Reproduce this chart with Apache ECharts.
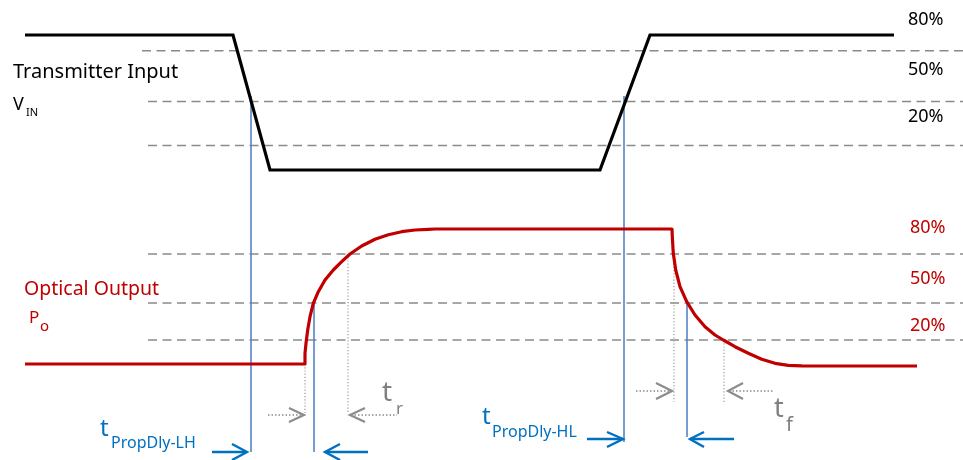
<!DOCTYPE html>
<html>
<head>
<meta charset="utf-8">
<script src="https://cdn.jsdelivr.net/npm/echarts@6/dist/echarts.min.js"></script>
<style>html,body{margin:0;padding:0;background:#fff}#c{width:963px;height:460px}</style>
</head>
<body>
<div id="c"></div>
<script>
// Time (x) and level (y) values, in the diagram's own units
const inputWave = [[25,35],[233,35],[270,170],[600,170],[650,35],[894,35]];
const outputWave = [[25,364],[305,364],[305,353.3],[306,343.3],[307.7,330],[310,316.7],[313.3,303.3],[318.3,291.7],[325,280],[333.3,270],[341.7,261.7],[350,254],[361.7,246],[375,239.3],[388.3,234.7],[401.7,231.7],[415,230],[428.3,229.3],[435,229],[672,229],[672.3,236.7],[673.3,253.3],[675.7,270],[680,286.7],[686.7,301.7],[695,315],[705,326.7],[715,335],[723.3,340],[735,346.7],[748.3,353.3],[761.7,359.3],[775,363.3],[788.3,365.3],[801.7,365.8],[917,366]];
const inputThresholds = [[142,50.7],[148,101.5],[148,145.5]];
const outputThresholds = [[148,254],[148,303],[148,340]];
const thresholdEnd = 963;
const propMarkers = [[[251,96],[251,452]],[[624,96],[624,442]],[[314,303],[314,452]],[[687,303],[687,437]]];
const edgeMarkers = [[[305,364],[305,413]],[[348,254],[348,413]],[[674,254],[674,402]],[[724,340],[724,402]]];
const grayTails = [[[268,415],[303,415]],[[351,415],[397,415]],[[636,391],[671,391]],[[729,391],[773,391]]];
const grayHeads = [[[289,408],[304,415],[289,422]],[[365,408],[350,415],[365,422]],[[656,383],[672,391],[656,399]],[[743,383],[728,391],[743,399]]];
const blueTails = [[[212,452],[246,452]],[[325,452],[368,452]],[[587,439],[623,439]],[[690,439],[734,439]]];
const blueHeads = [[[232,444],[247,452],[232,460]],[[340,444],[325,452],[340,460]],[[607,432],[623,439],[607,447]],[[704,432],[690,439],[704,447]]];
const inputLevelLabels = ['80%','50%','20%'];
const inputLevelPos = [[908,20],[908,70],[908,117]];
const outputLevelLabels = ['80%','50%','20%'];
const outputLevelPos = [[910,228],[910,279],[910,326]];
const textLabels = [
  ['Transmitter Input',13,72,20,'#000'],
  ['V',13,104.4,18,'#000'],
  ['IN',26,112.7,11,'#000'],
  ['Optical Output',24,289.2,19.5,'#C00000'],
  ['P',29,318.4,17,'#C00000'],
  ['o',40,327.2,15,'#C00000'],
  ['t',382,393.1,28,'#808080'],
  ['r',396,409.4,17,'#808080'],
  ['t',774,409.5,27,'#808080'],
  ['f',786,425.2,20,'#808080'],
  ['t',100,428.7,24,'#0070C0'],
  ['PropDly-LH',111,443.8,16,'#0070C0'],
  ['t',482,416.7,24,'#0070C0'],
  ['PropDly-HL',492,432.8,16,'#0070C0']
];

const FONT = 'Noto Sans';
const series = [];
function seg(data, style, z) {
  series.push({type:'line', data:data, symbol:'none', silent:true, animation:false, z:z,
    lineStyle:style});
}
const dashStyle = {color:'#8a8a8a', width:1.6, type:[9,5.5]};
inputThresholds.concat(outputThresholds).forEach(t => seg([t,[thresholdEnd,t[1]]], dashStyle, 1));
edgeMarkers.forEach(s => seg(s, {color:'#9a9a9a', width:1.2, type:[1.2,2]}, 2));
grayTails.forEach(s => seg(s, {color:'#8c8c8c', width:1.5, type:[1.5,2]}, 2));
grayHeads.forEach(s => seg(s, {color:'#8c8c8c', width:2.2, join:'miter'}, 2));
seg(inputWave, {color:'#000', width:3.2, join:'miter'}, 4);
seg(outputWave, {color:'#C00000', width:3.2, join:'round'}, 4);
propMarkers.forEach(s => seg(s, {color:'#5585c5', width:1.6}, 3));
blueTails.forEach(s => seg(s, {color:'#0070C0', width:2.4}, 3));
blueHeads.forEach(s => seg(s, {color:'#0070C0', width:2.4, join:'miter'}, 3));

function labelItem(text, x, y, size, color) {
  return {value:[x,y], label:{show:true, formatter:text, position:'inside', align:'left', verticalAlign:'middle',
    fontFamily:FONT, fontSize:size, color:color, opacity:1, textBorderWidth:0, textShadowBlur:0}};
}
const labelData = [];
inputLevelLabels.forEach((t,i) => labelData.push(labelItem(t, inputLevelPos[i][0], inputLevelPos[i][1], 18, '#000')));
outputLevelLabels.forEach((t,i) => labelData.push(labelItem(t, outputLevelPos[i][0], outputLevelPos[i][1], 18, '#C00000')));
textLabels.forEach(l => labelData.push(labelItem(l[0], l[1], l[2], l[3], l[4])));
series.push({type:'scatter', data:labelData, symbolSize:1, itemStyle:{color:'#fff', opacity:1}, silent:true, animation:false, z:5});

const chart = echarts.init(document.getElementById('c'), null, {renderer:'canvas'});
chart.setOption({
  animation:false,
  backgroundColor:'#fff',
  grid:{left:0, right:0, top:0, bottom:0},
  xAxis:{type:'value', min:0, max:963, show:false},
  yAxis:{type:'value', min:0, max:460, inverse:true, show:false},
  series:series
});
</script>
</body>
</html>
